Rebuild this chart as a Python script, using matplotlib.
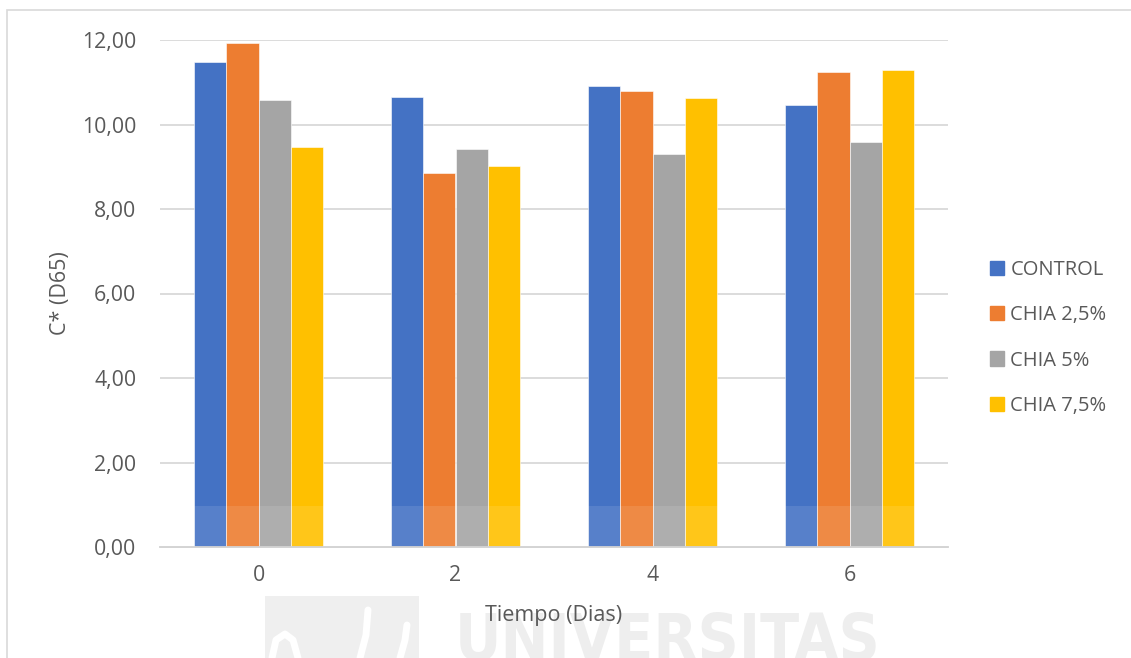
import numpy as np
import matplotlib.pyplot as plt
from matplotlib.patches import Patch, Rectangle
from matplotlib.lines import Line2D

plt.rcParams['font.family'] = ['Open Sans', 'DejaVu Sans']

dias = ['0', '2', '4', '6']
series = ['CONTROL', 'CHIA 2,5%', 'CHIA 5%', 'CHIA 7,5%']
control = [11.47, 10.65, 10.92, 10.45]
chia_25 = [11.94, 8.85, 10.79, 11.24]
chia_5 = [10.59, 9.42, 9.29, 9.58]
chia_75 = [9.47, 9.02, 10.63, 11.29]
colors = ['#4472C4', '#ED7D31', '#A5A5A5', '#FFC000']
text_c = '#595959'

W, H = 1131, 658
fig = plt.figure(figsize=(W / 100, H / 100), dpi=100)

# chart border
fig.add_artist(Rectangle((7 / W, -0.1), 1.2, (H - 10) / H + 0.1, transform=fig.transFigure,
                         fill=False, edgecolor='#d9d9d9', lw=1.2))

# faint watermark at the bottom
fig.add_artist(Rectangle((265 / W, 0), (419 - 265) / W, (H - 596) / H, transform=fig.transFigure,
                         facecolor='#efefef', edgecolor='none', zorder=0))
for xs, ys in [([272, 276, 285, 293, 298], [658, 640, 634, 640, 658]),
               ([368, 366, 360], [610, 635, 658]),
               ([407, 405, 400], [625, 640, 658])]:
    fig.add_artist(Line2D(np.array(xs) / W, 1 - np.array(ys) / H, transform=fig.transFigure,
                          color='white', lw=5, solid_capstyle='round', zorder=0))
wm = fig.text(455 / W, 0, 'UNIVERSITAS', fontsize=50, fontweight='bold', fontstretch='condensed',
              color='#eeeeee', family='DejaVu Sans', ha='left', va='baseline', zorder=0)
# fit the watermark word to its width, top of the capitals at y=613 px
wm_w = wm.get_window_extent(fig.canvas.get_renderer()).width
wm_fs = 50 * 427 / wm_w
wm.set_fontsize(wm_fs)
wm.set_y(1 - (613 + 0.73 * wm_fs * 100 / 72) / H)

ax = fig.add_axes([160 / W, (H - 547) / H, 788 / W, (547 - 40) / H])
ax.set_facecolor('none')
ax.set_zorder(2)

vals = [control, chia_25, chia_5, chia_75]
x = np.arange(len(dias))
bw = 0.1625
for i, (name, v) in enumerate(zip(series, vals)):
    ax.bar(x + (i - 1.5) * bw, v, bw, color=colors[i], edgecolor='white', lw=0.4,
           label=name, zorder=2)

# light band across the lower part of the bars
ax.axhspan(0, 0.97, color='white', alpha=0.1, lw=0, zorder=3)

ax.set_xlim(-0.5, 3.5)
ax.set_ylim(0, 12)
ax.set_yticks(np.arange(0, 13, 2))
ax.set_yticklabels([f'{t:.2f}'.replace('.', ',') for t in np.arange(0, 13, 2)])
ax.set_xticks(x)
ax.set_xticklabels(dias)
ax.tick_params(length=0, labelsize=15.3, labelcolor=text_c)
ax.tick_params(axis='y', pad=17)
ax.tick_params(axis='x', pad=13)
ax.grid(axis='y', color='#d9d9d9', lw=1.3, zorder=0)
for s in ['top', 'right', 'left']:
    ax.spines[s].set_visible(False)
ax.spines['bottom'].set_color('#d0d0d0')
ax.spines['bottom'].set_linewidth(1.3)

ax.set_ylabel('C* (D65)', fontsize=15.5, color=text_c, labelpad=8)
ax.set_xlabel('Tiempo (Dias)', fontsize=15.5, color=text_c, labelpad=14)

handles = [Patch(color=c, label=s) for c, s in zip(colors, series)]
fig.legend(handles=handles, loc='center left', bbox_to_anchor=(972 / W, (H - 338) / H),
           frameon=False, fontsize=14.5, labelcolor=text_c, handlelength=0.7,
           handleheight=0.7, handletextpad=0.3, labelspacing=1.25)

fig.savefig('out.png', dpi=100)
